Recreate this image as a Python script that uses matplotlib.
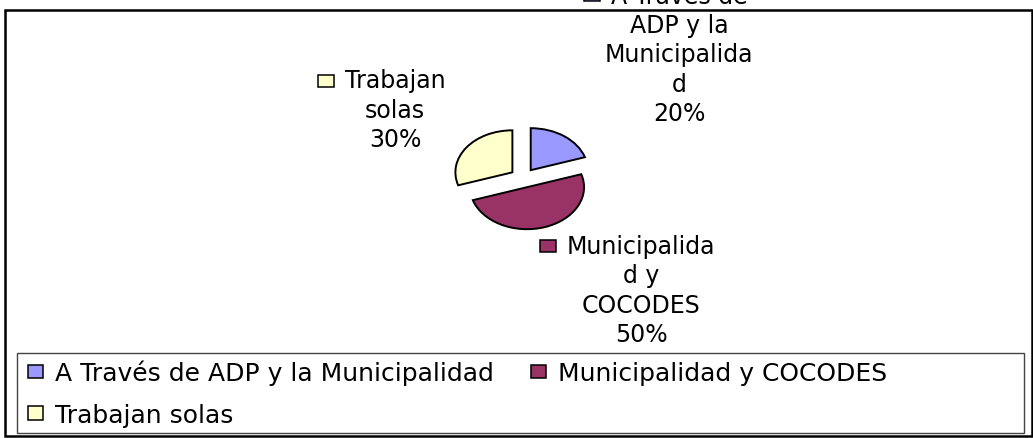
import matplotlib
matplotlib.use('Agg')
import matplotlib.pyplot as plt
from matplotlib.patches import Rectangle

# datos
categorias = ['A Través de ADP y la Municipalidad', 'Municipalidad y COCODES', 'Trabajan solas']
etiquetas = ['A Través de\nADP y la\nMunicipalida\nd', 'Municipalida\nd y\nCOCODES', 'Trabajan\nsolas']
valores = [20, 50, 30]
colores = ['#9999FF', '#993366', '#FFFFCC']

W, H = 1033, 439
plt.rcParams['font.family'] = ['DejaVu Sans']
FS = 17
FS_LEG = 18
ESP = 30  # separacion entre lineas (px)

fig = plt.figure(figsize=(W / 100, H / 100), dpi=100)


def fx(x):
    return x / W


def fy(y):
    return 1 - y / H


# marco exterior
fig.add_artist(Rectangle((fx(5), fy(437)), fx(1032) - fx(5), fy(10.5) - fy(437),
                         transform=fig.transFigure, fill=False, lw=1.8, ec='black'))

# torta
rx, ry = 57, 42
cx, cy = 523, 179
ax = fig.add_axes([fx(cx - 1.5 * rx), fy(cy + 1.5 * ry), 3 * rx / W, 3 * ry / H])
wedges, _ = ax.pie(valores, colors=colores, startangle=90, counterclock=False,
                   explode=[0.23] * len(valores),
                   wedgeprops=dict(edgecolor='black', linewidth=1.4))
ax.set_aspect('auto')
ax.set_xlim(-1.5, 1.5)
ax.set_ylim(-1.5, 1.5)
ax.axis('off')

# etiquetas de datos
pos_etiquetas = [(679, 121), (641, 342), (395, 147)]
renderer = fig.canvas.get_renderer()
total = sum(valores)
for lab, v, col, (x, y) in zip(etiquetas, valores, colores, pos_etiquetas):
    pct = f"{v / total * 100:.0f}%"
    fig.text(fx(x), fy(y), lab + "\n" + pct, ha='center', va='baseline',
             fontsize=FS, linespacing=1.28)
    primera = lab.split('\n')[0]
    tmp = fig.text(0, 0, primera, fontsize=FS)
    w = tmp.get_window_extent(renderer).width
    tmp.remove()
    y1 = y - (lab.count('\n') + 1) * ESP
    der = x - w / 2 - 11
    fig.add_artist(Rectangle((fx(der - 16), fy(y1 + 1)), 16 / W, 12 / H,
                             transform=fig.transFigure, fc=col, ec='black', lw=1.1))

# leyenda
fig.add_artist(Rectangle((fx(17), fy(434)), fx(1024) - fx(17), fy(354) - fy(434),
                         transform=fig.transFigure, fill=False, lw=1.0, ec='#444444'))
orden = [0, 2, 1]
leg = fig.legend([wedges[i] for i in orden], [categorias[i] for i in orden],
                 loc='upper left', bbox_to_anchor=(fx(28), fy(361)), ncol=2,
                 frameon=False, fontsize=FS_LEG, handlelength=0.6, handleheight=0.44,
                 handletextpad=0.48, columnspacing=1.5, labelspacing=0.7,
                 borderpad=0, borderaxespad=0)
for h in leg.legend_handles:
    h.set_linewidth(1.1)

fig.savefig('out.png', dpi=100)
